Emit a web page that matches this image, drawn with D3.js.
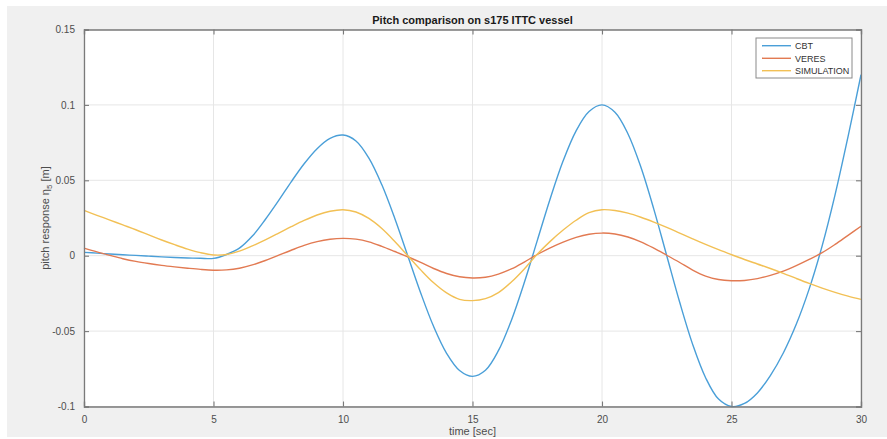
<!DOCTYPE html>
<html>
<head>
<meta charset="utf-8">
<script src="https://cdn.jsdelivr.net/npm/d3@7"></script>
<style>
  html, body { margin: 0; padding: 0; background: #ffffff; }
  svg { display: block; font-family: "Liberation Sans", Arial, Helvetica, sans-serif; }
</style>
</head>
<body>
<svg id="chart" width="887" height="439"></svg>
<script>
const title = "Pitch comparison on s175 ITTC vessel";
const xLabel = "time [sec]";
const seriesNames = ["CBT", "VERES", "SIMULATION"];
const xTicks = [0, 5, 10, 15, 20, 25, 30];
const yTicks = [-0.1, -0.05, 0, 0.05, 0.1, 0.15];
const yTickLabels = ["-0.1", "-0.05", "0", "0.05", "0.1", "0.15"];

const time = [0,0.5,1,1.5,2,2.5,3,3.5,4,4.5,5,5.5,6,6.5,7,7.5,8,8.5,9,9.5,
  10,10.5,11,11.5,12,12.5,13,13.5,14,14.5,15,15.5,16,16.5,17,17.5,18,18.5,19,19.5,
  20,20.5,21,21.5,22,22.5,23,23.5,24,24.5,25,25.5,26,26.5,27,27.5,28,28.5,29,29.5,30];

const cbt = [0.0022,0.0017,0.0011,0.0006,0.0002,-0.0003,-0.0008,-0.0012,-0.0015,-0.0017,
  -0.0018,0.0008,0.0050,0.0130,0.0240,0.0362,0.0490,0.0610,0.0710,0.0778,
  0.0800,0.0761,0.0647,0.0470,0.0247,0.0000,-0.0247,-0.0470,-0.0647,-0.0761,
  -0.0800,-0.0760,-0.0630,-0.0429,-0.0178,0.0100,0.0378,0.0629,0.0828,0.0956,
  0.1000,0.0951,0.0809,0.0588,0.0309,0.0000,-0.0309,-0.0588,-0.0809,-0.0951,
  -0.1000,-0.0980,-0.0910,-0.0795,-0.0645,-0.0455,-0.0220,0.0065,0.0405,0.0790,0.1200];

const veres = [0.0050,0.0025,0.0002,-0.0020,-0.0038,-0.0052,-0.0064,-0.0074,-0.0083,-0.0091,
  -0.0096,-0.0094,-0.0083,-0.0061,-0.0032,0.0002,0.0036,0.0068,0.0093,0.0109,
  0.0115,0.0110,0.0092,0.0062,0.0028,-0.0007,-0.0045,-0.0085,-0.0118,-0.0140,
  -0.0148,-0.0143,-0.0122,-0.0088,-0.0042,0.0008,0.0052,0.0090,0.0121,0.0142,
  0.0150,0.0144,0.0124,0.0092,0.0050,0.0003,-0.0045,-0.0095,-0.0135,-0.0158,
  -0.0166,-0.0164,-0.0152,-0.0130,-0.0102,-0.0066,-0.0025,0.0020,0.0075,0.0135,0.0195];

const simulation = [0.0300,0.0268,0.0236,0.0204,0.0172,0.0138,0.0104,0.0073,0.0044,0.0020,
  0.0005,0.0008,0.0030,0.0065,0.0105,0.0148,0.0192,0.0234,0.0270,0.0295,
  0.0305,0.0290,0.0247,0.0180,0.0094,0.0000,-0.0094,-0.0180,-0.0247,-0.0290,
  -0.0298,-0.0285,-0.0245,-0.0175,-0.0088,0.0010,0.0095,0.0170,0.0235,0.0285,
  0.0305,0.0300,0.0282,0.0255,0.0223,0.0188,0.0150,0.0112,0.0075,0.0040,
  0.0007,-0.0025,-0.0055,-0.0085,-0.0117,-0.0151,-0.0184,-0.0215,-0.0243,-0.0268,-0.0290];

const seriesColors = ["#4a9fd8", "#e27a52", "#f2c055"];
const seriesValues = [cbt, veres, simulation];

const svg = d3.select("#chart");
const W = 887, H = 439;
const plot = { left: 84, right: 861, top: 29.5, bottom: 406.5 };

// figure background
svg.append("rect").attr("x", 0).attr("y", 0).attr("width", W).attr("height", H).attr("fill", "#ffffff");
svg.append("rect").attr("x", 7).attr("y", 6).attr("width", W - 7).attr("height", 431).attr("fill", "#f0f0f0");

const x = d3.scaleLinear().domain([0, 30]).range([plot.left, plot.right]);
const y = d3.scaleLinear().domain([-0.1, 0.15]).range([plot.bottom, plot.top]);

// plot area
svg.append("rect").attr("x", plot.left).attr("y", plot.top)
  .attr("width", plot.right - plot.left).attr("height", plot.bottom - plot.top)
  .attr("fill", "#ffffff");

// grid
const grid = svg.append("g").attr("stroke", "#e6e6e6").attr("stroke-width", 1);
xTicks.forEach(t => {
  grid.append("line").attr("x1", x(t)).attr("x2", x(t)).attr("y1", plot.top).attr("y2", plot.bottom);
});
yTicks.forEach(t => {
  grid.append("line").attr("x1", plot.left).attr("x2", plot.right).attr("y1", y(t)).attr("y2", y(t));
});

// lines
const line = d3.line().x((d, i) => x(time[i])).y(d => y(d)).curve(d3.curveCatmullRom.alpha(0.5));
seriesValues.forEach((vals, k) => {
  svg.append("path").datum(vals).attr("d", line)
    .attr("fill", "none").attr("stroke", seriesColors[k]).attr("stroke-width", 1.4);
});

// axes (inward ticks)
const axisColor = "#7a7a7a";
const textColor = "#4d4d4d";
const xAxisB = d3.axisBottom(x).tickValues(xTicks).tickSize(-5).tickPadding(9).tickFormat(d3.format("d"));
const xAxisT = d3.axisTop(x).tickValues(xTicks).tickSize(-5).tickFormat("");
const yAxisL = d3.axisLeft(y).tickValues(yTicks).tickSize(-5).tickPadding(9)
  .tickFormat((d, i) => yTickLabels[i]);
const yAxisR = d3.axisRight(y).tickValues(yTicks).tickSize(-5).tickFormat("");

function style(g) {
  g.selectAll("path").attr("stroke", axisColor).attr("stroke-width", 1.3);
  g.selectAll("line").attr("stroke", axisColor).attr("stroke-width", 1.1);
  g.selectAll("text").attr("fill", textColor).attr("font-size", 10)
    .attr("font-family", "Liberation Sans, Arial, sans-serif");
}
svg.append("g").attr("transform", `translate(0,${plot.bottom})`).call(xAxisB).call(style);
svg.append("g").attr("transform", `translate(0,${plot.top})`).call(xAxisT).call(style);
svg.append("g").attr("transform", `translate(${plot.left},0)`).call(yAxisL).call(style);
svg.append("g").attr("transform", `translate(${plot.right},0)`).call(yAxisR).call(style);

// title
svg.append("text").attr("x", (plot.left + plot.right) / 2).attr("y", 24)
  .attr("text-anchor", "middle").attr("font-size", 11).attr("font-weight", "bold")
  .attr("fill", "#1a1a1a").text(title);

// x label
svg.append("text").attr("x", (plot.left + plot.right) / 2).attr("y", 435)
  .attr("text-anchor", "middle").attr("font-size", 11).attr("fill", textColor).text(xLabel);

// y label
const yl = svg.append("text")
  .attr("transform", `translate(49,${(plot.top + plot.bottom) / 2}) rotate(-90)`)
  .attr("text-anchor", "middle").attr("font-size", 11).attr("fill", textColor);
yl.append("tspan").text("pitch response \u03B7");
yl.append("tspan").attr("dy", 3).attr("font-size", 8).text("5");
yl.append("tspan").attr("dy", -3).text(" [m]");

// legend
const lg = svg.append("g");
lg.append("rect").attr("x", 756).attr("y", 38).attr("width", 96).attr("height", 40)
  .attr("fill", "#ffffff").attr("stroke", "#8a8a8a").attr("stroke-width", 1);
const rowY = [45.7, 58.3, 70.7];
seriesNames.forEach((name, k) => {
  lg.append("line").attr("x1", 762).attr("x2", 791).attr("y1", rowY[k]).attr("y2", rowY[k])
    .attr("stroke", seriesColors[k]).attr("stroke-width", 1.4);
  lg.append("text").attr("x", 795).attr("y", rowY[k] + 3.3).attr("font-size", 9)
    .attr("fill", "#333333").text(name);
});
</script>
</body>
</html>
